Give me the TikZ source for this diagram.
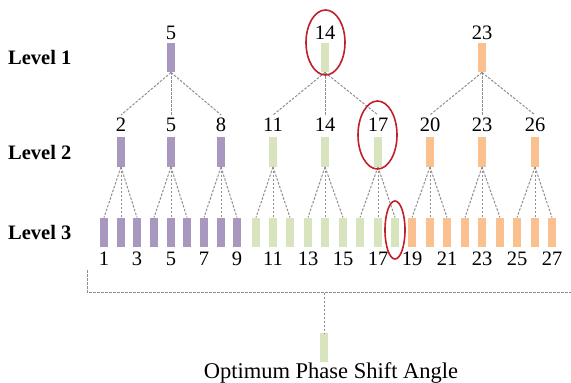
\documentclass[tikz,border=0pt]{standalone}
\usepackage{fontspec}
\setmainfont{Liberation Serif}
\definecolor{barpurple}{HTML}{A898C0}
\definecolor{bargreen}{HTML}{D7E4BD}
\definecolor{barorange}{HTML}{FAC090}
\definecolor{ringred}{HTML}{C0202A}
\definecolor{linkgray}{HTML}{8E8E8E}
\begin{document}
\begin{tikzpicture}[x=1pt,y=-1pt,
  bar/.style={rectangle,inner sep=0pt,minimum width=8pt,minimum height=29.5pt},
  num/.style={inner sep=0pt,font=\fontsize{20.5}{24}\selectfont},
  numtop/.style={num,inner sep=3pt},
  lvl/.style={anchor=west,inner sep=0pt,font=\fontsize{20.5}{24}\selectfont\bfseries},
  link/.style={draw=linkgray,line width=1pt,dash pattern=on 2.5pt off 1.5pt},
  ring/.style={draw=ringred,line width=1.6pt}]
\useasboundingbox (0,0) rectangle (571,383);

% level labels
\node[lvl] (lv1) at (8,57) {Level 1};
\node[lvl] (lv2) at (8,152) {Level 2};
\node[lvl] (lv3) at (8,232) {Level 3};

% level 3: 27 bars, numbers under the odd ones
\foreach \x [count=\i from 1] in {104,121,137,154,171,187,204,221,237}
  \node[bar,fill=barpurple] (n3-\i) at (\x,232.5) {};
\foreach \x [count=\i from 10] in {256,273,290,308,325,343,360,378,395}
  \node[bar,fill=bargreen] (n3-\i) at (\x,232.5) {};
\foreach \x [count=\i from 19] in {412,430,447,465,482,500,517,535,552}
  \node[bar,fill=barorange] (n3-\i) at (\x,232.5) {};
\foreach \i in {1,3,...,27}
  \node[num] (t3-\i) at (n3-\i |- 0,258.5) {\i};

% level 2: one bar above each group of three
\foreach \v/\c [count=\j] in {2/barpurple,5/barpurple,8/barpurple,
    11/bargreen,14/bargreen,17/bargreen,20/barorange,23/barorange,26/barorange}{
  \node[bar,fill=\c] (n2-\j) at (n3-\v |- 0,152) {};
  \node[numtop] (t2-\j) at (n3-\v |- 0,125) {\v};
  \pgfmathtruncatemacro\lo{\v-1}
  \pgfmathtruncatemacro\hi{\v+1}
  \draw[link] (n2-\j.south) -- (n3-\lo.north);
  \draw[link] (n2-\j.south) -- (n3-\v.north);
  \draw[link] (n2-\j.south) -- (n3-\hi.north);
}

% level 1: one bar above each group of level-2 bars
\foreach \v/\c [count=\k] in {5/barpurple,14/bargreen,23/barorange}{
  \node[bar,fill=\c] (n1-\k) at (n3-\v |- 0,57.5) {};
  \node[num] (t1-\k) at (n3-\v |- 0,33) {\v};
  \pgfmathtruncatemacro\a{3*\k-2}
  \pgfmathtruncatemacro\b{3*\k-1}
  \pgfmathtruncatemacro\c{3*\k}
  \draw[link] (n1-\k.south) -- (t2-\a.north);
  \draw[link] (n1-\k.south) -- (t2-\b.north);
  \draw[link] (n1-\k.south) -- (t2-\c.north);
}

% highlighted search path
\draw[ring] (325.5,42.5) ellipse [x radius=19.5pt, y radius=32.5pt];
\draw[ring] (377.5,135) ellipse [x radius=19.5pt, y radius=34pt];
\draw[ring] (395,230) ellipse [x radius=10pt, y radius=29pt];

% collecting rail and the final result
\coordinate (railL) at (87.5,270);
\coordinate (railR) at (571,292.5);
\draw[link] (railL) |- (railR);
\node[bar,fill=bargreen] (best) at (324,347.5) {};
\coordinate (railM) at (best |- railR);
\draw[link] (railM) -- (best.north);
\node[anchor=base,inner sep=0pt,font=\fontsize{22.5}{27}\selectfont] (caption)
  at (331,378) {Optimum Phase Shift Angle};
\end{tikzpicture}
\end{document}
